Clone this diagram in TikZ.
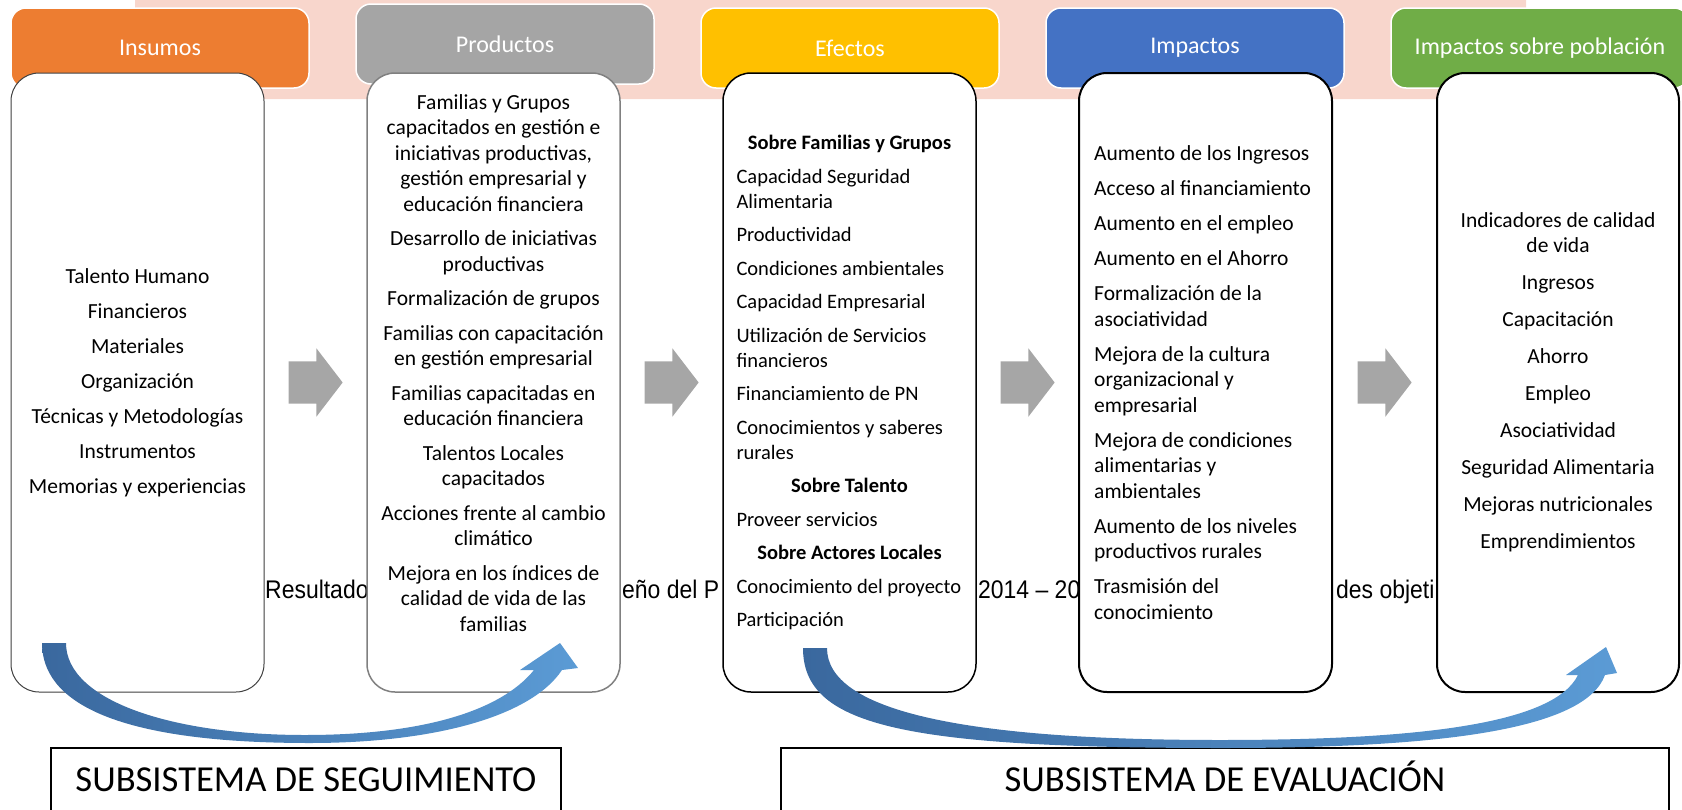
\documentclass[tikz,border=0pt]{standalone}
\usepackage{fontspec}
\setmainfont{Carlito}
\newfontfamily\capfont[FakeStretch=0.9]{Liberation Sans}
\usetikzlibrary{positioning,calc,shapes.arrows}

\definecolor{bandpink}{RGB}{248,214,204}
\definecolor{insorange}{RGB}{237,125,49}
\definecolor{progray}{RGB}{165,165,165}
\definecolor{efeyellow}{RGB}{255,192,0}
\definecolor{impblue}{RGB}{68,114,196}
\definecolor{popgreen}{RGB}{112,173,71}
\definecolor{stepgray}{RGB}{166,166,166}
\definecolor{arrowdark}{RGB}{58,104,158}
\definecolor{arrowlight}{RGB}{91,155,213}

\tikzstyle{phase} = [rectangle,
                    rounded corners=15pt,
                    minimum width=298pt,
                    minimum height=80pt,
                    outer sep=0pt,
                    draw=white,
                    line width=1.5pt,
                    text=white,
                    font=\fontsize{24}{28}\selectfont]
\tikzstyle{panel} = [rectangle,
                    rounded corners=28pt,
                    minimum width=253pt,
                    minimum height=619pt,
                    outer sep=0pt,
                    draw=black,
                    fill=white,
                    line width=1.5pt]
\tikzstyle{items} = [inner sep=0pt,
                    font=\fontsize{21.5}{25.5}\selectfont]
\tikzstyle{blockarrow} = [single arrow,
                    fill=stepgray,
                    inner xsep=0pt,
                    inner ysep=21pt,
                    minimum height=54pt,
                    xshift=-8pt,
                    single arrow head extend=13pt,
                    single arrow tip angle=105]
\tikzstyle{cutoff} = [inner sep=0pt,
                    anchor=base west,
                    font=\capfont\fontsize{25.5}{28}\selectfont]
\tikzstyle{subsys} = [rectangle,
                    draw=black,
                    line width=1.5pt,
                    minimum height=64pt,
                    text height=23.8pt,
                    text depth=0pt,
                    font=\fontsize{36.6}{40}\selectfont]
\tikzstyle{sweep} = [left color=arrowdark,
                    right color=arrowlight]
\tikzstyle{control} = [x=1pt,
                      y=-1pt,
                      node distance=103pt]

\begin{document}
\begin{tikzpicture}[control]
    \useasboundingbox (0,0) rectangle (1682,809);
    % band behind the titles
    \fill[bandpink, rounded corners=15pt] (135,-20) rectangle (1526,99);
    \node (h1) at (160,48) [phase, fill=insorange] {Insumos};
    \node (h2) [right=47pt of h1, yshift=4pt] [phase, fill=progray] {Productos};
    \node (h3) [right=47pt of h2, yshift=-4pt] [phase, fill=efeyellow] {Efectos};
    \node (h4) [right=47pt of h3] [phase, fill=impblue] {Impactos};
    \node (h5) [right=47pt of h4] [phase, fill=popgreen] {Impactos sobre población};
    % caption, hidden behind the panels
    \node (c1) at (265,598) [cutoff] {Resultado};
    \node (c2) at (622,598) [cutoff] {eño del P};
    \node (c3) at (978,598) [cutoff] {2014 – 20};
    \node (c4) at (1336,598) [cutoff] {des objeti};
    % panels
    \node (1) at (137.5,382.5) [panel, draw=black!75, line width=1pt] {};
    \node (2) [right=of 1] [panel, draw=black!50] {};
    \node (3) [right=of 2] [panel] {};
    \node (4) [right=of 3] [panel, line width=2pt] {};
    \node (5) [right=105pt of 4] [panel, line width=2pt, minimum width=242pt] {};
    \node (1x) at (1) [items, align=center] {Talento Humano\\[9.5pt]
      Financieros\\[9.5pt] Materiales\\[9.5pt] Organización\\[9.5pt]
      Técnicas y Metodologías\\[9.5pt] Instrumentos\\[9.5pt] Memorias y experiencias};
    \node (2x) at (2) [items, align=center, yshift=19.5pt] {Familias y Grupos\\
      capacitados en gestión e\\ iniciativas productivas,\\ gestión empresarial y\\
      educación financiera\\[9pt] Desarrollo de iniciativas\\ productivas\\[9pt]
      Formalización de grupos\\[9pt] Familias con capacitación\\ en gestión empresarial\\[9pt]
      Familias capacitadas en\\ educación financiera\\[9pt] Talentos Locales\\ capacitados\\[9pt]
      Acciones frente al cambio\\ climático\\[9pt] Mejora en los índices de\\
      calidad de vida de las\\ familias};
    \node (3x) at (3) [items, align=left, font=\fontsize{20.5}{25}\selectfont]
      {\makebox[226pt]{\bfseries Sobre Familias y Grupos}\\[8.5pt]
      Capacidad Seguridad\\ Alimentaria\\[8.5pt] Productividad\\[8.5pt]
      Condiciones ambientales\\[8.5pt] Capacidad Empresarial\\[8.5pt]
      Utilización de Servicios\\ financieros\\[8.5pt] Financiamiento de PN\\[8.5pt]
      Conocimientos y saberes\\ rurales\\[8.5pt]
      \makebox[226pt]{\bfseries Sobre Talento}\\[8.5pt] Proveer servicios\\[8.5pt]
      \makebox[226pt]{\bfseries Sobre Actores Locales}\\[8.5pt]
      Conocimiento del proyecto\\[8.5pt] Participación};
    \node (4x) [right=15pt of 4.west, anchor=west] [items, align=left] {Aumento de los Ingresos\\[9.5pt]
      Acceso al financiamiento\\[9.5pt] Aumento en el empleo\\[9.5pt]
      Aumento en el Ahorro\\[9.5pt] Formalización de la\\ asociatividad\\[9.5pt]
      Mejora de la cultura\\ organizacional y\\ empresarial\\[9.5pt]
      Mejora de condiciones\\ alimentarias y\\ ambientales\\[9.5pt]
      Aumento de los niveles\\ productivos rurales\\[9.5pt]
      Trasmisión del\\ conocimiento};
    \node (5x) at (5) [items, align=center] {Indicadores de calidad\\ de vida\\[11.5pt]
      Ingresos\\[11.5pt] Capacitación\\[11.5pt] Ahorro\\[11.5pt] Empleo\\[11.5pt]
      Asociatividad\\[11.5pt] Seguridad Alimentaria\\[11.5pt]
      Mejoras nutricionales\\[11.5pt] Emprendimientos};
    % grey steps between panels
    \node (a1) at ($(1.east)!.5!(2.west)$) [blockarrow] {};
    \node (a2) at ($(2.east)!.5!(3.west)$) [blockarrow] {};
    \node (a3) at ($(3.east)!.5!(4.west)$) [blockarrow] {};
    \node (a4) at ($(4.east)!.5!(5.west)$) [blockarrow] {};
    % subsystems
    \node (s1) at (306,780) [subsys, minimum width=510pt] {SUBSISTEMA DE SEGUIMIENTO};
    \node (s2) at (1225,780) [subsys, minimum width=888pt] {SUBSISTEMA DE EVALUACIÓN};
    % curved arrows
    \path[sweep] (42,643) -- (66,643)
      .. controls (66,700) and (170,735) .. (305,735)
      .. controls (420,735) and (500,712) .. (534,670)
      -- (520,670) -- (560,643) -- (578,668) -- (562,670)
      .. controls (530,718) and (430,743) .. (310,743)
      .. controls (110,743) and (42,700) .. (42,643) -- cycle;
    \path[sweep] (803,648) -- (827,648)
      .. controls (827,710) and (960,740) .. (1220,740)
      .. controls (1430,740) and (1555,722) .. (1578,675)
      -- (1566,675) -- (1606,647) -- (1617,673) -- (1605,675)
      .. controls (1585,730) and (1440,748) .. (1222,748)
      .. controls (900,748) and (803,725) .. (803,648) -- cycle;
  \end{tikzpicture}
\end{document}
